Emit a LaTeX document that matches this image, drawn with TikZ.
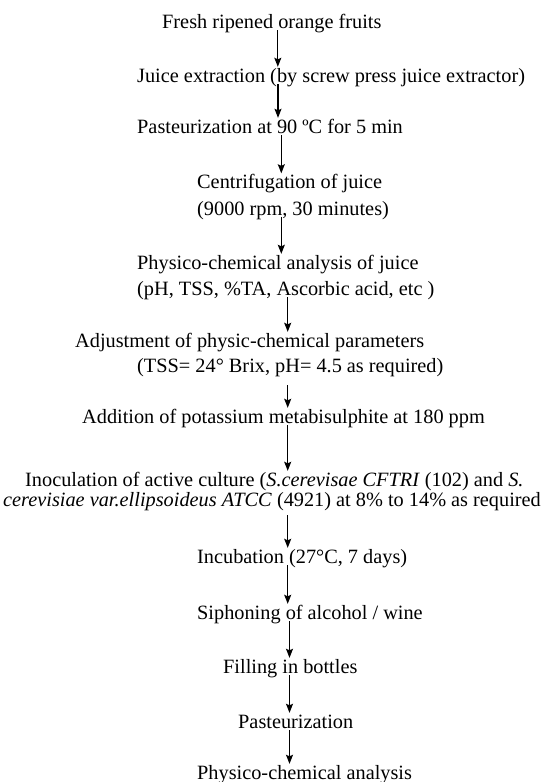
\documentclass[tikz,border=0pt]{standalone}
\usepackage{fontspec}
\setmainfont{Liberation Serif}
\usetikzlibrary{arrows.meta}
\begin{document}
\begin{tikzpicture}[x=1pt,y=-1pt,
  lbl/.style={anchor=base west, inner sep=0pt, text height=15pt, text depth=2pt,
              font=\fontsize{20.3}{25}\selectfont},
  arr/.style={-{Stealth[length=9pt,width=7pt,inset=1.5pt]}, line width=1.3pt}]
\useasboundingbox (0,0) rectangle (557,782);
\node[lbl] (n1)  at (162,28)  {Fresh ripened orange fruits};
\node[lbl] (n2)  at (137,82)  {Juice extraction (by screw press juice extractor)};
\node[lbl] (n3)  at (137,133) {Pasteurization at 90 ºC for 5 min};
\node[lbl] (n4a) at (197,188.5) {Centrifugation of juice};
\node[lbl] (n4b) at (197,215) {(9000 rpm, 30 minutes)};
\node[lbl] (n5a) at (137,269) {Physico-chemical analysis of juice};
\node[lbl] (n5b) at (137,295) {(pH, TSS, \%TA, Ascorbic acid, etc )};
\node[lbl] (n6a) at (75,347)  {Adjustment of physic-chemical parameters};
\node[lbl] (n6b) at (137,372) {(TSS= 24° Brix, pH= 4.5 as required)};
\node[lbl] (n7)  at (82,423)  {Addition of potassium metabisulphite at 180 ppm};
\node[lbl] (n8a) at (25,486)  {Inoculation of active culture (\textit{S.cerevisae CFTRI} (102) and \textit{S.}};
\node[lbl] (n8b) at (3,506)   {\textit{cerevisiae var.ellipsoideus ATCC} (4921) at 8\% to 14\% as required};
\node[lbl] (n9)  at (197,563) {Incubation (27°C, 7 days)};
\node[lbl] (n10) at (197,619) {Siphoning of alcohol / wine};
\node[lbl] (n11) at (223,673) {Filling in bottles};
\node[lbl] (n12) at (238,728) {Pasteurization};
\node[lbl] (n13) at (197,779) {Physico-chemical analysis};

\draw[arr] (n1.south -| 277.8,0) -- (n2.north -| 277.8,0);
\draw[arr] (n2.south -| 278,0) -- (n3.north -| 278,0);
\draw[arr] (n3.south -| 281.3,0) -- (n4a.north -| 281.3,0);
\draw[arr] (n4b.south -| 281.3,0) -- (n5a.north -| 281.3,0);
\draw[arr] (n5b.south -| 287.7,0) -- (n6a.north -| 287.7,0);
\draw[arr, shorten <=11pt] (n6b.south -| 287.7,0) -- (n7.north -| 287.7,0);
\draw[arr] (n7.south -| 287.7,0) -- (n8a.north -| 287.7,0);
\draw[arr, shorten <=7pt] (n8b.south -| 287.7,0) -- (n9.north -| 287.7,0);
\draw[arr] (n9.south -| 287.7,0) -- (n10.north -| 287.7,0);
\draw[arr] (n10.south -| 289.5,0) -- (n11.north -| 289.5,0);
\draw[arr] (n11.south -| 289.5,0) -- (n12.north -| 289.5,0);
\draw[arr] (n12.south -| 289.5,0) -- (n13.north -| 289.5,0);
\end{tikzpicture}
\end{document}
